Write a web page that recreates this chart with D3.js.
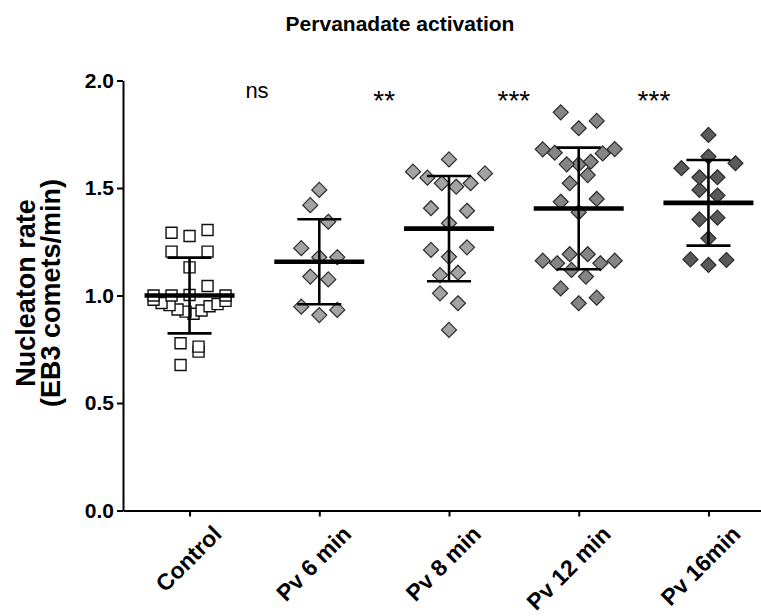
<!DOCTYPE html>
<html><head><meta charset="utf-8">
<script src="https://cdn.jsdelivr.net/npm/d3@7/dist/d3.min.js"></script>
<style>body{margin:0;background:#fff} svg{display:block}</style>
</head><body>
<svg id="c" width="761" height="616"></svg>
<script>
// ---------- data ----------
const categories = ["Control", "Pv 6 min", "Pv 8 min", "Pv 12 min", "Pv 16min"];
const controlValues = [0.739, 0.677, 0.762, 0.778,
  0.915, 0.925, 0.930, 0.935, 0.950, 0.955, 0.960, 0.965, 0.975, 0.980,
  1.002, 1.044, 1.000, 1.000, 1.000,
  1.131, 1.204, 1.204, 1.277, 1.305, 1.292];
const pv6Values = [0.909, 0.933, 0.948, 1.075, 1.088, 1.178, 1.178, 1.220, 1.343, 1.420, 1.491];
const pv8Values = [0.840, 0.964, 1.010, 1.106, 1.095, 1.180, 1.224, 1.212, 1.336, 1.394, 1.406,
  1.506, 1.522, 1.522, 1.548, 1.568, 1.576, 1.633];
const pv12Values = [0.964, 0.990, 1.033, 1.088, 1.119, 1.150, 1.150, 1.162, 1.162, 1.192, 1.192,
  1.387, 1.449, 1.436, 1.560, 1.522, 1.610, 1.622, 1.610, 1.661, 1.664, 1.681, 1.680,
  1.778, 1.812, 1.852];
const pv16Values = [1.142, 1.165, 1.168, 1.266, 1.362, 1.354, 1.465, 1.491, 1.550, 1.550,
  1.615, 1.592, 1.646, 1.747];
const groupMeans = [1.000, 1.157, 1.311, 1.405, 1.431];
const groupSD = [0.176, 0.198, 0.245, 0.283, 0.199];
const yTickValues = [0, 0.5, 1.0, 1.5, 2.0];
const significance = ["ns", "**", "***", "***"];
const titleText = "Pervanadate activation";
const yTitleLines = ["Nucleaton rate", "(EB3 comets/min)"];

// ---------- layout / style ----------
const W = 761, H = 616;
const font = "'Liberation Sans', Arial, Helvetica, sans-serif";
const groups = [
  {values: controlValues, shape: "square", fill: "#ffffff"},
  {values: pv6Values, shape: "diamond", fill: "#a3a3a3"},
  {values: pv8Values, shape: "diamond", fill: "#a3a3a3"},
  {values: pv12Values, shape: "diamond", fill: "#858585"},
  {values: pv16Values, shape: "diamond", fill: "#5a5a5a"}
];
const sigPos = [0.52, 1.5, 2.5, 3.58]; // positions in category-index units
const sigY = 1.935;

const svg = d3.select("#c");
svg.append("rect").attr("width", W).attr("height", H).attr("fill", "#fff");

const x = d3.scalePoint().domain(categories).range([123, 775]).padding(0.513);
const y = d3.scaleLinear().domain([0, 2]).range([510.5, 80.5]);
const xIdx = d3.scaleLinear().domain([0, categories.length - 1]).range([x(categories[0]), x(categories[categories.length - 1])]);

// GraphPad-like scatter: rows of close values spread horizontally
function rowOffsets(values, rowH, spacing, maxHalf) {
  const idx = values.map((v, i) => i).sort((a, b) => values[a] - values[b] || a - b);
  const off = new Array(values.length).fill(0);
  let k = 0;
  while (k < idx.length) {
    const y0 = y(values[idx[k]]);
    const row = [];
    while (k < idx.length && Math.abs(y0 - y(values[idx[k]])) < rowH) { row.push(idx[k]); k++; }
    row.sort((a, b) => a - b);
    const n = row.length;
    const sp = n > 1 ? Math.min(spacing, 2 * maxHalf / (n - 1)) : 0;
    row.forEach((di, j) => {
      let slot;
      if (n % 2 === 1) slot = j === 0 ? 0 : (j % 2 === 1 ? (j + 1) / 2 : -(j / 2));
      else { const m = Math.floor(j / 2) + 0.5; slot = j % 2 === 0 ? m : -m; }
      off[di] = slot * sp;
    });
  }
  return off;
}

// points
groups.forEach((g, gi) => {
  const cx = x(categories[gi]);
  const off = rowOffsets(g.values, 17.5, 18, 36);
  const sel = svg.append("g").selectAll("path").data(g.values).join("path");
  if (g.shape === "square") {
    sel.attr("d", d3.symbol(d3.symbolSquare, 121))
      .attr("fill", g.fill).attr("stroke", "#111").attr("stroke-width", 1.4);
  } else {
    sel.attr("d", "M0,-7.5L7.5,0L0,7.5L-7.5,0Z")
      .attr("fill", g.fill).attr("stroke", "#2a2a2a").attr("stroke-width", 1.2);
  }
  sel.attr("transform", (d, i) => `translate(${cx + off[i]},${y(d)})`);
});

// mean and SD bars
const bars = svg.append("g").attr("stroke", "#000").attr("fill", "none");
categories.forEach((c, i) => {
  const cx = x(c), m = groupMeans[i], s = groupSD[i];
  bars.append("line").attr("x1", cx).attr("x2", cx).attr("y1", y(m + s)).attr("y2", y(m - s)).attr("stroke-width", 2.6);
  [m + s, m - s].forEach(v => bars.append("line").attr("x1", cx - 22).attr("x2", cx + 22)
    .attr("y1", y(v)).attr("y2", y(v)).attr("stroke-width", 2.6));
  bars.append("line").attr("x1", cx - 45).attr("x2", cx + 45).attr("y1", y(m)).attr("y2", y(m)).attr("stroke-width", 4.6);
});

// axes
const yAxis = svg.append("g").attr("transform", "translate(123,0)")
  .call(d3.axisLeft(y).tickValues(yTickValues).tickFormat(d3.format(".1f")).tickSize(6).tickSizeOuter(0).tickPadding(3));
yAxis.select(".domain").attr("stroke-width", 2);
yAxis.selectAll(".tick line").attr("stroke-width", 2);
yAxis.selectAll("text").attr("font-family", font).attr("font-weight", "bold").attr("font-size", 21).attr("fill", "#000");

const xAxis = svg.append("g").attr("transform", "translate(0,510.5)")
  .call(d3.axisBottom(x).tickSize(6).tickSizeOuter(0));
xAxis.select(".domain").attr("stroke-width", 2);
xAxis.selectAll(".tick line").attr("stroke-width", 2);
xAxis.selectAll("text").attr("font-family", font).attr("font-weight", "bold").attr("font-size", 23).attr("fill", "#000")
  .attr("y", 0).attr("dy", 0).attr("text-anchor", "end")
  .attr("transform", "translate(33,25) rotate(-45)");

// title
svg.append("text").attr("x", 400).attr("y", 31).attr("text-anchor", "middle")
  .attr("font-family", font).attr("font-weight", "bold").attr("font-size", 21).text(titleText);

// y title
const yt = svg.append("text").attr("transform", "translate(0,293) rotate(-90)")
  .attr("text-anchor", "middle").attr("font-family", font).attr("font-weight", "bold").attr("font-size", 27);
yTitleLines.forEach((t, i) => yt.append("tspan").attr("x", 0).attr("y", 35 + i * 25).text(t));

// significance labels
significance.forEach((s, i) => {
  const isStar = s.indexOf("*") >= 0;
  svg.append("text").attr("x", xIdx(sigPos[i])).attr("y", isStar ? y(sigY) + 16 : y(sigY) + 4)
    .attr("text-anchor", "middle").attr("font-family", font)
    .attr("font-size", isStar ? 28 : 22).text(s);
});
</script>
</body></html>
